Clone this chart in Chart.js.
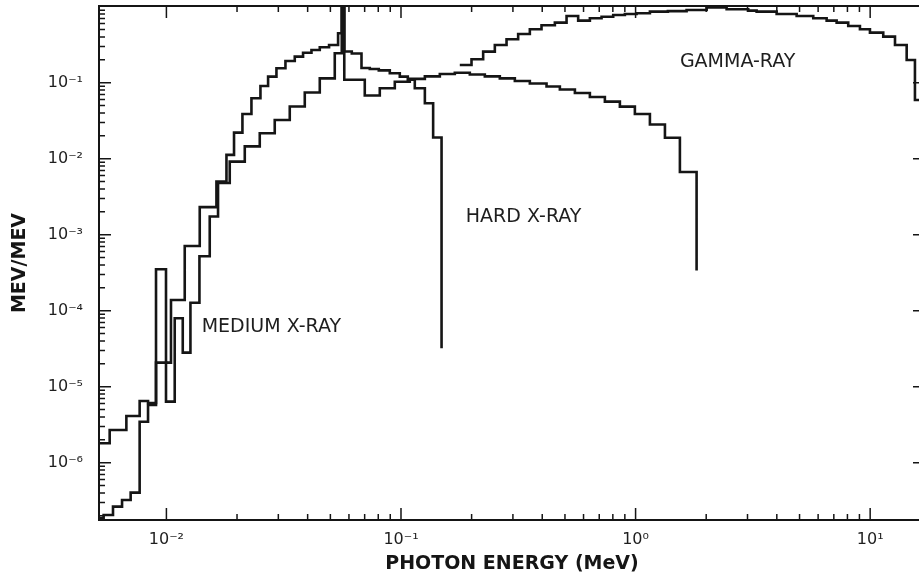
<!DOCTYPE html>
<html>
<head>
<meta charset="utf-8">
<script src="https://cdn.jsdelivr.net/npm/chart.js@4"></script>
<style>
  html, body { margin: 0; padding: 0; background: #fff; overflow: hidden; }
  canvas { display: block; }
</style>
</head>
<body>
<canvas id="spectra" width="932" height="576"></canvas>
<script>
// bin edges (MeV) and MeV/MeV values, one value per bin
const mediumEdges = [0.00516, 0.00573, 0.00675, 0.00769, 0.00835, 0.00903, 0.00996, 0.01046, 0.01197, 0.01387,
    0.01634, 0.01803, 0.01942, 0.02109, 0.02304, 0.02517, 0.02713, 0.02945, 0.03217, 0.03525,
    0.03824, 0.04153, 0.04506, 0.04936, 0.05393, 0.05592, 0.05731, 0.06169, 0.06786, 0.07362,
    0.08041, 0.08959, 0.09883, 0.1069, 0.1145, 0.1264, 0.1371, 0.1489];
const mediumValues = [1.80e-6, 2.69e-6, 4.11e-6, 6.48e-6, 6.10e-6, 3.51e-4, 2.07e-5, 1.38e-4, 7.10e-4, 2.30e-3,
    4.98e-3, 1.12e-2, 2.20e-2, 3.87e-2, 6.24e-2, 9.05e-2, 0.120, 0.155, 0.193, 0.220,
    0.248, 0.269, 0.292, 0.313, 0.447, 1.2, 0.257, 0.242, 0.156, 0.151,
    0.145, 0.133, 0.120, 0.109, 0.0844, 0.0536, 0.0190];
const mediumEnd = 3.2e-5;

const hardEdges = [0.00516, 0.00540, 0.00592, 0.00647, 0.00704, 0.00769, 0.00835, 0.00903, 0.00996, 0.01085,
    0.01174, 0.01266, 0.01383, 0.01530, 0.01660, 0.01862, 0.02158, 0.02500, 0.02896, 0.03356,
    0.03889, 0.04506, 0.05220, 0.05592, 0.05731, 0.07008, 0.08121, 0.09410, 0.1090, 0.1264,
    0.1464, 0.1696, 0.1965, 0.2277, 0.2638, 0.3057, 0.3542, 0.4173, 0.4756, 0.5512,
    0.6385, 0.7398, 0.8572, 0.9931, 1.151, 1.334, 1.545, 1.820];
const hardValues = [1.87e-7, 2.05e-7, 2.64e-7, 3.23e-7, 4.03e-7, 3.46e-6, 5.74e-6, 2.07e-5, 6.35e-6, 7.94e-5,
    2.80e-5, 1.27e-4, 5.20e-4, 1.73e-3, 4.79e-3, 9.14e-3, 1.45e-2, 2.16e-2, 3.23e-2, 4.86e-2,
    7.43e-2, 0.114, 0.244, 1.2, 0.109, 0.0679, 0.0844, 0.103, 0.112, 0.121,
    0.130, 0.135, 0.128, 0.121, 0.114, 0.105, 0.0976, 0.0891, 0.0814, 0.0731,
    0.0648, 0.0562, 0.0483, 0.0387, 0.0282, 0.0188, 0.00668];
const hardEnd = 3.38e-4;

const gammaEdges = [0.1781, 0.1998, 0.2240, 0.2512, 0.2818, 0.3158, 0.3542, 0.3972, 0.4528, 0.5079,
    0.5692, 0.6385, 0.7161, 0.8028, 0.9003, 1.010, 1.151, 1.373, 1.650, 2.009,
    2.444, 3.021, 3.281, 3.993, 4.860, 5.720, 6.524, 7.196, 8.063, 9.045,
    9.979, 11.37, 12.76, 14.31, 15.52, 17.13];
const gammaValues = [0.171, 0.203, 0.256, 0.313, 0.372, 0.437, 0.504, 0.569, 0.616, 0.755,
    0.654, 0.703, 0.738, 0.778, 0.802, 0.819, 0.859, 0.873, 0.905, 0.975,
    0.924, 0.886, 0.859, 0.802, 0.755, 0.703, 0.654, 0.616, 0.557, 0.504,
    0.455, 0.403, 0.313, 0.199, 0.0592];

// axis ticks (minor + decades)
const xTicks = [0.01, 0.02, 0.03, 0.04, 0.05, 0.06, 0.07, 0.08, 0.09,
    0.1, 0.2, 0.3, 0.4, 0.5, 0.6, 0.7, 0.8, 0.9,
    1, 2, 3, 4, 5, 6, 7, 8, 9, 10];
const yTicks = [2e-7, 3e-7, 4e-7, 5e-7, 6e-7, 7e-7, 8e-7, 9e-7,
    1e-6, 2e-6, 3e-6, 4e-6, 5e-6, 6e-6, 7e-6, 8e-6, 9e-6,
    1e-5, 2e-5, 3e-5, 4e-5, 5e-5, 6e-5, 7e-5, 8e-5, 9e-5,
    1e-4, 2e-4, 3e-4, 4e-4, 5e-4, 6e-4, 7e-4, 8e-4, 9e-4,
    1e-3, 2e-3, 3e-3, 4e-3, 5e-3, 6e-3, 7e-3, 8e-3, 9e-3,
    1e-2, 2e-2, 3e-2, 4e-2, 5e-2, 6e-2, 7e-2, 8e-2, 9e-2,
    0.1, 0.2, 0.3, 0.4, 0.5, 0.6, 0.7, 0.8, 0.9];

// curve labels
const curveLabels = [
    { text: 'MEDIUM X-RAY', x: 0.01414, y: 6.1e-5 },
    { text: 'HARD X-RAY', x: 0.1889, y: 1.71e-3 },
    { text: 'GAMMA-RAY', x: 1.545, y: 0.187 }
];

const ink = '#151515';
const FONT = '"DejaVu Sans", Verdana, sans-serif';

function histPoints(edges, values, endValue) {
    const pts = values.map((v, i) => ({ x: edges[i], y: v }));
    pts.push({ x: edges[edges.length - 1], y: values[values.length - 1] });
    if (endValue !== undefined) pts.push({ x: edges[edges.length - 1], y: endValue });
    return pts;
}

const SUP = { '0': '⁰', '1': '¹', '2': '²', '3': '³', '4': '⁴', '5': '⁵', '6': '⁶', '7': '⁷', '8': '⁸', '9': '⁹', '-': '⁻' };
function isDecade(v) {
    const l = Math.log10(v);
    return Math.abs(l - Math.round(l)) < 1e-6;
}
function decadeLabel(v) {
    if (!isDecade(v)) return '';
    const e = String(Math.round(Math.log10(v)));
    return '10' + e.split('').map(c => SUP[c]).join('');
}

// inward tick marks, frame and curve labels
const frameAndTicks = {
    id: 'frameAndTicks',
    afterDatasetsDraw(chart) {
        const { ctx, chartArea: a, scales: { x, y } } = chart;
        ctx.save();
        ctx.strokeStyle = ink;
        ctx.lineWidth = 1.5;
        ctx.beginPath();
        x.ticks.forEach(t => {
            const px = x.getPixelForValue(t.value);
            const len = isDecade(t.value) ? 12 : 6;
            ctx.moveTo(px, a.bottom); ctx.lineTo(px, a.bottom - len);
            ctx.moveTo(px, a.top); ctx.lineTo(px, a.top + len);
        });
        y.ticks.forEach(t => {
            const py = y.getPixelForValue(t.value);
            const len = isDecade(t.value) ? 12 : 6;
            ctx.moveTo(a.left, py); ctx.lineTo(a.left + len, py);
            ctx.moveTo(a.right, py); ctx.lineTo(a.right - len, py);
        });
        ctx.stroke();
        ctx.lineWidth = 2;
        ctx.strokeRect(a.left, a.top, a.right - a.left, a.bottom - a.top);

        ctx.fillStyle = '#1e1e1e';
        ctx.font = '19px ' + FONT;
        ctx.textAlign = 'left';
        ctx.textBaseline = 'middle';
        curveLabels.forEach(l => {
            ctx.fillText(l.text, x.getPixelForValue(l.x), y.getPixelForValue(l.y));
        });
        ctx.restore();
    }
};

const lineStyle = {
    borderColor: ink,
    borderWidth: 2.6,
    stepped: 'before',
    pointRadius: 0,
    fill: false,
    tension: 0
};

function noPad(s) {
    s.paddingTop = 0; s.paddingBottom = 0; s.paddingLeft = 0; s.paddingRight = 0;
}

new Chart(document.getElementById('spectra'), {
    type: 'line',
    data: {
        datasets: [
            Object.assign({ label: 'MEDIUM X-RAY', data: histPoints(mediumEdges, mediumValues, mediumEnd) }, lineStyle),
            Object.assign({ label: 'HARD X-RAY', data: histPoints(hardEdges, hardValues, hardEnd) }, lineStyle),
            Object.assign({ label: 'GAMMA-RAY', data: histPoints(gammaEdges, gammaValues) }, lineStyle)
        ]
    },
    options: {
        responsive: false,
        animation: false,
        events: [],
        layout: { padding: { left: 0, right: 7, top: 6, bottom: 0 } },
        plugins: { legend: { display: false }, tooltip: { enabled: false } },
        scales: {
            x: {
                type: 'logarithmic',
                min: 0.00516,
                max: 17.13,
                afterBuildTicks: s => { s.ticks = xTicks.map(v => ({ value: v })); },
                afterFit: s => { s.height = 56; noPad(s); },
                grid: { display: false, drawTicks: false },
                border: { display: false },
                ticks: {
                    autoSkip: false, maxRotation: 0, padding: 10,
                    color: '#1e1e1e', font: { family: FONT, size: 16 },
                    callback: v => decadeLabel(v)
                },
                title: {
                    display: true, text: 'PHOTON ENERGY (MeV)', color: ink,
                    font: { family: FONT, size: 19, weight: 'bold' },
                    padding: { top: 0, bottom: 1 }
                }
            },
            y: {
                type: 'logarithmic',
                min: 1.76e-7,
                max: 1.02,
                afterBuildTicks: s => { s.ticks = yTicks.map(v => ({ value: v })); },
                afterFit: s => { s.width = 99; noPad(s); },
                grid: { display: false, drawTicks: false },
                border: { display: false },
                ticks: {
                    autoSkip: false, padding: 16,
                    color: '#1e1e1e', font: { family: FONT, size: 16 },
                    callback: v => decadeLabel(v)
                },
                title: {
                    display: true, text: 'MEV/MEV', color: ink,
                    font: { family: FONT, size: 19, weight: 'bold' },
                    padding: { top: 9, bottom: 0 }
                }
            }
        }
    },
    plugins: [frameAndTicks]
});
</script>
</body>
</html>
